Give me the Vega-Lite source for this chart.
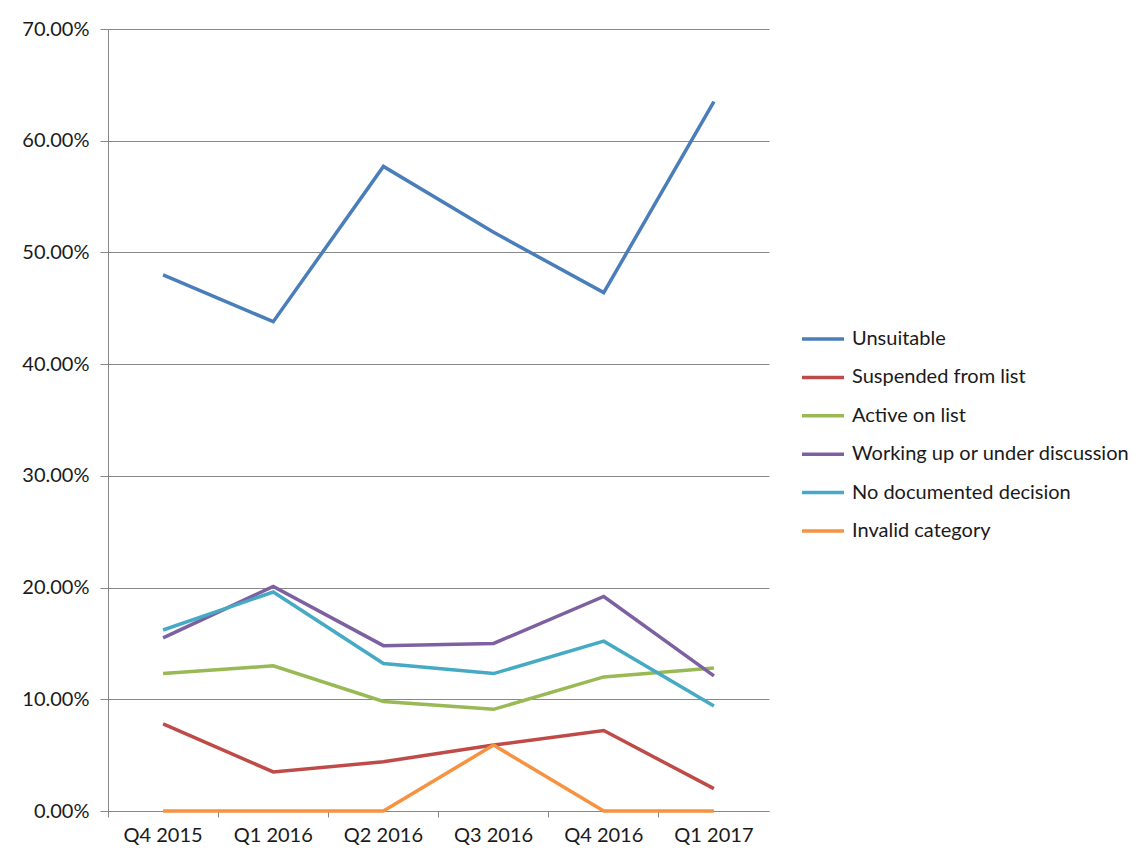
{
  "$schema": "https://vega.github.io/schema/vega-lite/v6.json",
  "width": 661,
  "height": 782,
  "autosize": "none",
  "padding": {"left": 108, "top": 29, "right": 371, "bottom": 51},
  "background": "white",
  "config": {
    "view": {"stroke": null},
    "font": "Lato"
  },
  "data": {
    "values": [
      {"q": "Q4 2015", "s": "Unsuitable", "v": 0.480},
      {"q": "Q1 2016", "s": "Unsuitable", "v": 0.438},
      {"q": "Q2 2016", "s": "Unsuitable", "v": 0.577},
      {"q": "Q3 2016", "s": "Unsuitable", "v": 0.518},
      {"q": "Q4 2016", "s": "Unsuitable", "v": 0.464},
      {"q": "Q1 2017", "s": "Unsuitable", "v": 0.635},
      {"q": "Q4 2015", "s": "Suspended from list", "v": 0.078},
      {"q": "Q1 2016", "s": "Suspended from list", "v": 0.035},
      {"q": "Q2 2016", "s": "Suspended from list", "v": 0.044},
      {"q": "Q3 2016", "s": "Suspended from list", "v": 0.059},
      {"q": "Q4 2016", "s": "Suspended from list", "v": 0.072},
      {"q": "Q1 2017", "s": "Suspended from list", "v": 0.020},
      {"q": "Q4 2015", "s": "Active on list", "v": 0.123},
      {"q": "Q1 2016", "s": "Active on list", "v": 0.130},
      {"q": "Q2 2016", "s": "Active on list", "v": 0.098},
      {"q": "Q3 2016", "s": "Active on list", "v": 0.091},
      {"q": "Q4 2016", "s": "Active on list", "v": 0.120},
      {"q": "Q1 2017", "s": "Active on list", "v": 0.128},
      {"q": "Q4 2015", "s": "Working up or under discussion", "v": 0.155},
      {"q": "Q1 2016", "s": "Working up or under discussion", "v": 0.201},
      {"q": "Q2 2016", "s": "Working up or under discussion", "v": 0.148},
      {"q": "Q3 2016", "s": "Working up or under discussion", "v": 0.150},
      {"q": "Q4 2016", "s": "Working up or under discussion", "v": 0.192},
      {"q": "Q1 2017", "s": "Working up or under discussion", "v": 0.121},
      {"q": "Q4 2015", "s": "No documented decision", "v": 0.162},
      {"q": "Q1 2016", "s": "No documented decision", "v": 0.196},
      {"q": "Q2 2016", "s": "No documented decision", "v": 0.132},
      {"q": "Q3 2016", "s": "No documented decision", "v": 0.123},
      {"q": "Q4 2016", "s": "No documented decision", "v": 0.152},
      {"q": "Q1 2017", "s": "No documented decision", "v": 0.094},
      {"q": "Q4 2015", "s": "Invalid category", "v": 0.0},
      {"q": "Q1 2016", "s": "Invalid category", "v": 0.0},
      {"q": "Q2 2016", "s": "Invalid category", "v": 0.0},
      {"q": "Q3 2016", "s": "Invalid category", "v": 0.059},
      {"q": "Q4 2016", "s": "Invalid category", "v": 0.0},
      {"q": "Q1 2017", "s": "Invalid category", "v": 0.0}
    ]
  },
  "mark": {"type": "line", "strokeWidth": 3.5, "strokeJoin": "miter"},
  "encoding": {
    "x": {
      "field": "q",
      "type": "nominal",
      "sort": null,
      "scale": {"type": "band", "paddingInner": 0, "paddingOuter": 0},
      "axis": {
        "title": null,
        "labelAngle": 0,
        "bandPosition": 0,
        "labelFont": "Lato",
        "labelFontSize": 20,
        "labelColor": "#1a1a1a",
        "labelPadding": 8,
        "tickSize": 6,
        "tickColor": "#888888",
        "domainColor": "#888888",
        "grid": false
      }
    },
    "y": {
      "field": "v",
      "type": "quantitative",
      "scale": {"domain": [0, 0.7], "nice": false},
      "axis": {
        "title": null,
        "values": [0, 0.1, 0.2, 0.3, 0.4, 0.5, 0.6, 0.7],
        "format": ".2%",
        "labelFont": "Lato",
        "labelFontSize": 20,
        "labelColor": "#1a1a1a",
        "labelPadding": 11,
        "tickSize": 8,
        "tickColor": "#888888",
        "domainColor": "#888888",
        "gridColor": "#888888",
        "gridWidth": 1
      }
    },
    "color": {
      "field": "s",
      "type": "nominal",
      "sort": ["Unsuitable", "Suspended from list", "Active on list", "Working up or under discussion", "No documented decision", "Invalid category"],
      "scale": {
        "domain": ["Unsuitable", "Suspended from list", "Active on list", "Working up or under discussion", "No documented decision", "Invalid category"],
        "range": ["#4A7EBB", "#BE4B48", "#98B954", "#7D60A0", "#46AAC5", "#F69240"]
      },
      "legend": {
        "title": null,
        "orient": "none",
        "legendX": 692,
        "legendY": 287,
        "symbolType": "M-1,0H1",
        "symbolSize": 1764,
        "symbolStrokeWidth": 3.5,
        "labelFont": "Lato",
        "labelFontSize": 20,
        "labelColor": "#1a1a1a",
        "labelOffset": 6,
        "labelLimit": 0,
        "rowPadding": 5.4,
        "padding": 0
      }
    }
  }
}
